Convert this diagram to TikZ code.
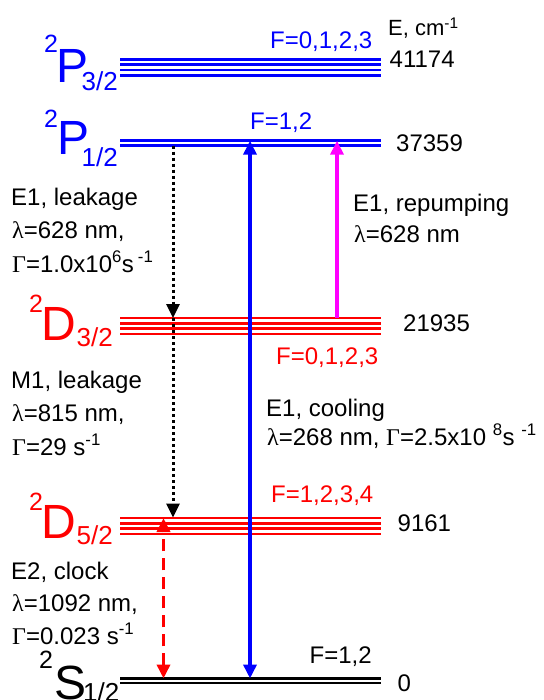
\documentclass[tikz,border=0pt]{standalone}
\usepackage{fontspec}
\setmainfont{Liberation Sans}
\newfontfamily\grk{Liberation Serif}
\usetikzlibrary{arrows.meta}
\definecolor{repcol}{RGB}{255,0,255}
\begin{document}
\begin{tikzpicture}[x=1pt, y=-1pt, >={Triangle[width=13pt,length=14pt]},
        lvl/.style={line width=2.7pt},
        txt/.style={inner sep=0pt, anchor=base west, font=\fontsize{24}{28}\selectfont},
        term/.style={inner sep=0pt, anchor=base west, font=\fontsize{48}{52}\selectfont},
        tsup/.style={inner sep=0pt, anchor=base west, font=\fontsize{25}{28}\selectfont},
        tsub/.style={inner sep=0pt, anchor=base west, font=\fontsize{26}{28}\selectfont},
        trans/.style={line width=3.5pt},
        dotline/.style={line width=3pt, dash pattern=on 3pt off 3pt}]
  \useasboundingbox (0,0) rectangle (543,700);
  % ---- levels ----
  \foreach \y in {59.3,64.6,69.9,75.2}
    \draw[lvl, blue] (120,\y) -- (381,\y);
  \foreach \y in {140.7,145.7}
    \draw[lvl, blue] (120,\y) -- (381,\y);
  \foreach \y in {318,323.3,328.6,333.9}
    \draw[lvl, red] (120,\y) -- (381,\y);
  \foreach \y in {518,523.3,528.6,533.9}
    \draw[lvl, red] (120,\y) -- (381,\y);
  \foreach \y in {678.5,683}
    \draw[lvl] (120,\y) -- (381,\y);
  % ---- term labels ----
  \node[tsup, blue] (P32s) at (44,53) {2};
  \node[term, blue] (P32) at (56,83) {P};
  \node[tsub, blue] (P32j) at (81.5,91) {3/2};
  \node[tsup, blue] (P12s) at (44,128) {2};
  \node[term, blue] (P12) at (57,155) {P};
  \node[tsub, blue] (P12j) at (81.5,167) {1/2};
  \node[tsup, red] (D32s) at (29,312) {2};
  \node[term, red] (D32) at (41,340) {D};
  \node[tsub, red] (D32j) at (76.5,346) {3/2};
  \node[tsup, red] (D52s) at (29,510) {2};
  \node[term, red] (D52) at (41,538) {D};
  \node[tsub, red] (D52j) at (76.5,544) {5/2};
  \node[tsup] (S12s) at (39,668) {2};
  \node[term] (S12) at (54,699) {S};
  \node[tsub] (S12j) at (83,701) {1/2};
  % ---- energies ----
  \node[txt, font=\fontsize{22}{26}\selectfont] (Eunit) at (388,36) {E, cm\textsuperscript{-1}};
  \node[txt] (E41174) at (389.5,68) {41174};
  \node[txt] (E37359) at (396,152) {37359};
  \node[txt] (E21935) at (403,331) {21935};
  \node[txt] (E9161) at (397.5,531) {9161};
  \node[txt] (E0) at (397.5,691) {0};
  % ---- hyperfine ----
  \node[txt, blue] (FP32) at (270,49) {F=0,1,2,3};
  \node[txt, blue] (FP12) at (250,130) {F=1,2};
  \node[txt, red] (FD32) at (276,364) {F=0,1,2,3};
  \node[txt, red] (FD52) at (271,502) {F=1,2,3,4};
  \node[txt] (FS12) at (309.5,663) {F=1,2};
  % ---- transition labels ----
  \node[txt] (leakPa) at (11,206) {E1, leakage};
  \node[txt] (leakPb) at (12,239) {{\grk λ}=628 nm,};
  \node[txt] (leakPc) at (12,272) {{\grk Γ}=1.0x10\textsuperscript{6}s\,\textsuperscript{-1}};
  \node[txt] (repa) at (353,212) {E1, repumping};
  \node[txt] (repb) at (354,243) {{\grk λ}=628 nm};
  \node[txt] (leakDa) at (11,388) {M1, leakage};
  \node[txt] (leakDb) at (12,421) {{\grk λ}=815 nm,};
  \node[txt] (leakDc) at (12,455) {{\grk Γ}=29 s\textsuperscript{-1}};
  \node[txt] (coola) at (266,416) {E1, cooling};
  \node[txt] (coolb) at (267,445) {{\grk λ}=268 nm, {\grk Γ}=2.5x10 \textsuperscript{8}s \textsuperscript{-1}};
  \node[txt] (clka) at (11,579) {E2, clock};
  \node[txt] (clkb) at (12,611) {{\grk λ}=1092 nm,};
  \node[txt] (clkc) at (12,644) {{\grk Γ}=0.023 s\textsuperscript{-1}};
  % ---- transitions ----
  \coordinate (coolS) at (250,678.5);
  \coordinate (coolP) at (250,140.7);
  \coordinate (repD) at (337,318);
  \coordinate (repP) at (337,140.7);
  \coordinate (leakP) at (173,145.7);
  \coordinate (leakD3) at (173,318);
  \coordinate (leakD5) at (173,517.5);
  \coordinate (clkD) at (163.5,518);
  \coordinate (clkS) at (163.5,678.5);
  \draw[trans, blue, <->] (coolS) -- (coolP);
  \draw[trans, repcol, ->] (repD) -- (repP);
  \draw[dotline, ->] (leakP) -- (leakD3);
  \draw[dotline, ->] (leakD3) -- (leakD5);
  \draw[trans, red, dash pattern=on 12pt off 7pt, <->] (clkS) -- (clkD);
\end{tikzpicture}
\end{document}
